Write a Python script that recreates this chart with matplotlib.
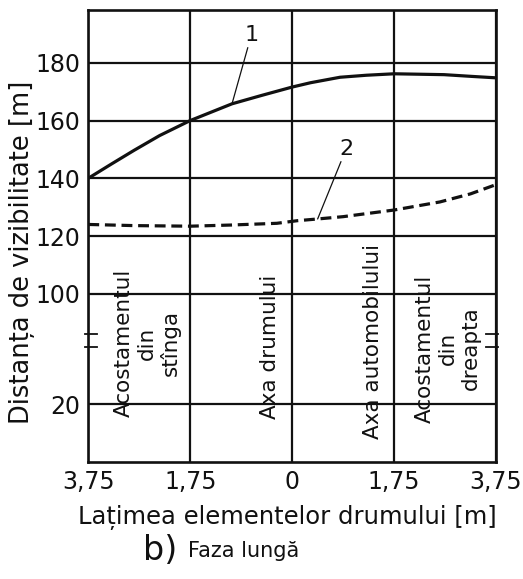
import matplotlib.pyplot as plt

# Stations across the road (drawn equally spaced), left shoulder -> right shoulder
x_labels = ['3,75', '1,75', '0', '1,75', '3,75']
x_stations = [0, 1, 2, 3, 4]

# Curve 1 (solid) - visibility distance [m]
c1_x = [0, 0.225, 0.45, 0.7, 1, 1.41, 1.7, 2, 2.18, 2.47, 2.73, 3, 3.49, 3.76, 4]
c1_y = [140, 144.9, 149.7, 154.8, 160, 165.8, 168.7, 171.6, 173.1, 175.0, 175.7, 176.2, 175.9, 175.3, 174.8]

# Curve 2 (dashed) - visibility distance [m]
c2_x = [0, 0.45, 1, 1.4, 1.85, 2.05, 2.25, 2.5, 3, 3.45, 3.75, 4]
c2_y = [124.0, 123.6, 123.4, 123.8, 124.4, 125.3, 125.9, 126.7, 129.0, 131.8, 134.6, 137.8]

y_ticks = [20, 100, 120, 140, 160, 180]

# the 0..20 part sits right under the axis break
BREAK_SHIFT = 41.7


def ypos(v):
    return v + BREAK_SHIFT if v <= 20 else v


ink = '#111111'
plt.rcParams['font.family'] = 'DejaVu Sans'

fig = plt.figure(figsize=(5.23, 5.79), dpi=100, facecolor='white')
ax = fig.add_axes([88.3 / 523, 1 - 462 / 579, (496 - 88.3) / 523, (462 - 10) / 579])

ax.set_xlim(0, 4)
ax.set_ylim(ypos(0), 198.3)

ax.set_xticks(x_stations)
ax.set_xticklabels(x_labels, fontsize=17, color=ink)
ax.set_yticks([ypos(v) for v in y_ticks])
ax.set_yticklabels([str(v) for v in y_ticks], fontsize=17, color=ink)
ax.tick_params(length=0, pad=6)
ax.grid(True, color=ink, lw=1.6)
ax.set_axisbelow(True)
for s in ax.spines.values():
    s.set_linewidth(1.9)
    s.set_color(ink)

# curves
ax.plot(c1_x, c1_y, color=ink, lw=2.3, solid_capstyle='round', zorder=3)
ax.plot(c2_x, c2_y, color=ink, lw=2.3, dashes=(3.4, 1.8), zorder=3)

# curve numbers with leader lines
ax.annotate('1', xy=(c1_x[5], c1_y[5]), xytext=(1.60, 189.7), fontsize=16,
            ha='center', va='center', color=ink,
            arrowprops=dict(arrowstyle='-', lw=0.9, color=ink, shrinkA=0, shrinkB=0))
ax.annotate('2', xy=(c2_x[6], c2_y[6]), xytext=(2.53, 150.2), fontsize=16,
            ha='center', va='center', color=ink,
            arrowprops=dict(arrowstyle='-', lw=0.9, color=ink, shrinkA=0, shrinkB=0))

# break marks on both vertical borders
btr = ax.get_yaxis_transform()
for yb in (86.2, 81.4):
    ax.plot([-0.008, 0.022], [yb, yb], transform=btr, color=ink, lw=1.3, clip_on=False)
    ax.plot([0.976, 1.004], [yb, yb], transform=btr, color=ink, lw=1.3, clip_on=False)

# road element names
lab_kw = dict(rotation=90, ha='center', va='center', multialignment='center',
              fontsize=15.5, color=ink)
ax.text(0.58, 82.8, 'Acostamentul\ndin\nstînga', **lab_kw)
ax.text(1.78, 81.7, 'Axa drumului', **lab_kw)
ax.text(2.79, 83.4, 'Axa automobilului', **lab_kw)
ax.text(3.53, 81.0, 'Acostamentul\ndin\ndreapta', **lab_kw)

# axis titles and caption
fig.text(22 / 523, 1 - 252 / 579, 'Distanța de vizibilitate [m]', rotation=90,
         ha='center', va='center', fontsize=18.5, color=ink)
fig.text(287 / 523, 1 - 517 / 579, 'Lațimea elementelor drumului [m]',
         ha='center', va='center', fontsize=17.5, color=ink)
fig.text(143 / 523, 1 - 551 / 579, 'b)', ha='left', va='center', fontsize=24, color=ink)
fig.text(188 / 523, 1 - 551 / 579, 'Faza lungă', ha='left', va='center', fontsize=15, color=ink)

fig.savefig('out.png', dpi=100, facecolor='white')
